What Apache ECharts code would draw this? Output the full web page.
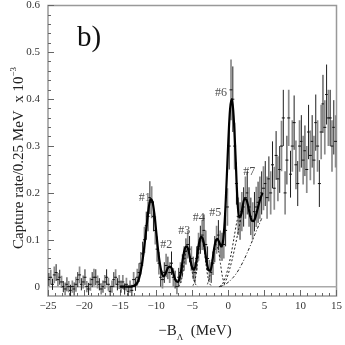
<!DOCTYPE html>
<html>
<head>
<meta charset="utf-8">
<script src="https://cdn.jsdelivr.net/npm/echarts@6/dist/echarts.min.js"></script>
<style>
  html, body { margin: 0; padding: 0; background: #fff; }
  #chart { width: 345px; height: 345px; }
</style>
</head>
<body>
<div id="chart"></div>
<script>
// histogram: 0.25 MeV bins starting at -25 MeV
const BIN_START = -25;
const BIN_W = 0.25;

// capture rate per bin (x 10^-3), 4 bins per MeV, one line per MeV
const rate = [
  0.015, 0.02, 0.005, 0.025,    // -25
  0.03, 0.015, 0.02, 0.01,      // -24
  0.0, -0.005, 0.005, 0.0,      // -23
  -0.008, 0.0, -0.005, 0.005,   // -22
  0.015, 0.025, 0.005, 0.01,    // -21
  0.02, 0.0, -0.005, 0.005,     // -20
  0.015, 0.02, 0.02, 0.01,      // -19
  0.005, -0.005, 0.0, 0.01,     // -18
  0.02, 0.005, -0.01, 0.0,      // -17
  0.015, 0.02, 0.005, 0.01,     // -16
  0.0, 0.01, -0.005, 0.005,     // -15
  -0.01, 0.0, -0.008, 0.015,    // -14
  0.005, 0.02, 0.03, 0.05,      // -13
  0.07, 0.10, 0.13, 0.15,       // -12
  0.19, 0.18, 0.15, 0.12,       // -11
  0.08, 0.05, 0.02, 0.015,      // -10
  0.03, 0.045, 0.04, 0.03,      // -9
  0.05, 0.02, 0.015, 0.0,       // -8
  0.02, 0.03, 0.045, 0.06,      // -7
  0.075, 0.09, 0.08, 0.06,      // -6
  0.04, 0.03, 0.06, 0.085,      // -5
  0.10, 0.11, 0.12, 0.09,       // -4
  0.06, 0.035, 0.03, 0.05,      // -3
  0.08, 0.10, 0.11, 0.09,       // -2
  0.085, 0.09, 0.12, 0.17,      // -1
  0.30, 0.42, 0.40, 0.30,       // 0
  0.22, 0.15, 0.14, 0.16,       // 1
  0.17, 0.19, 0.20, 0.17,       // 2
  0.15, 0.14, 0.16, 0.17,       // 3
  0.18, 0.19, 0.20, 0.21,       // 4
  0.22, 0.19, 0.23, 0.20,       // 5
  0.26, 0.21, 0.28, 0.23,       // 6
  0.25, 0.30, 0.36, 0.20,       // 7
  0.27, 0.36, 0.24, 0.30,       // 8
  0.35, 0.26, 0.22, 0.30,       // 9
  0.31, 0.27, 0.29, 0.25,       // 10
  0.33, 0.28, 0.31, 0.27,       // 11
  0.35, 0.30, 0.22, 0.33,       // 12
  0.39, 0.34, 0.41, 0.36,       // 13
  0.36, 0.30, 0.34, 0.31        // 14
];

// statistical error per bin
const rateErr = [
  0.014, 0.016, 0.012, 0.018,
  0.018, 0.014, 0.016, 0.013,
  0.012, 0.014, 0.015, 0.012,
  0.012, 0.013, 0.014, 0.016,
  0.016, 0.018, 0.013, 0.014,
  0.017, 0.012, 0.013, 0.014,
  0.016, 0.018, 0.017, 0.014,
  0.013, 0.012, 0.013, 0.015,
  0.017, 0.014, 0.012, 0.013,
  0.016, 0.017, 0.013, 0.015,
  0.013, 0.015, 0.012, 0.014,
  0.012, 0.013, 0.012, 0.016,
  0.014, 0.018, 0.02, 0.024,
  0.026, 0.028, 0.03, 0.032,
  0.035, 0.034, 0.032, 0.03,
  0.027, 0.024, 0.02, 0.019,
  0.022, 0.025, 0.024, 0.022,
  0.025, 0.02, 0.019, 0.016,
  0.02, 0.022, 0.024, 0.026,
  0.028, 0.03, 0.028, 0.026,
  0.024, 0.022, 0.026, 0.03,
  0.03, 0.032, 0.034, 0.03,
  0.026, 0.022, 0.022, 0.025,
  0.028, 0.03, 0.032, 0.03,
  0.03, 0.03, 0.034, 0.04,
  0.05, 0.065, 0.07, 0.05,
  0.045, 0.04, 0.04, 0.042,
  0.042, 0.045, 0.046, 0.042,
  0.04, 0.04, 0.042, 0.043,
  0.044, 0.045, 0.046, 0.047,
  0.048, 0.045, 0.048, 0.046,
  0.05, 0.046, 0.052, 0.048,
  0.05, 0.054, 0.06, 0.046,
  0.052, 0.06, 0.05, 0.055,
  0.058, 0.052, 0.048, 0.055,
  0.056, 0.052, 0.054, 0.05,
  0.058, 0.053, 0.056, 0.052,
  0.06, 0.055, 0.05, 0.058,
  0.062, 0.058, 0.064, 0.06,
  0.06, 0.055, 0.058, 0.056
];

// fitted curve, sampled every 0.25 MeV from -15 MeV
const FIT_START = -15;
const fitY = [
  0, 0, 0, 0, 0, 0, 0, 0.001,                          // -15 .. -13.25
  0.002, 0.005, 0.012, 0.025, 0.045, 0.072, 0.105, 0.14, // -13 .. -11.25
  0.172, 0.187, 0.18, 0.155, 0.118, 0.08, 0.05, 0.03,    // -11 .. -9.25
  0.022, 0.026, 0.036, 0.042, 0.042, 0.035, 0.022, 0.012, // -9 .. -7.25
  0.01, 0.018, 0.038, 0.064, 0.082, 0.086, 0.076, 0.056,  // -7 .. -5.25
  0.04, 0.036, 0.048, 0.074, 0.097, 0.106, 0.1, 0.078,    // -5 .. -3.25
  0.052, 0.036, 0.034, 0.05, 0.078, 0.097, 0.102, 0.094,  // -3 .. -1.25
  0.086, 0.095, 0.14, 0.22, 0.31, 0.38, 0.40, 0.36,       // -1 .. 0.75
  0.28, 0.19, 0.148, 0.152, 0.172, 0.187, 0.186, 0.172,   // 1 .. 2.75
  0.153, 0.141, 0.14, 0.148, 0.162, 0.177, 0.19, 0.2      // 3 .. 4.75
];

// single-peak components (dotted)
const peak3X = [-6.9, -6.6, -6.3, -6.0, -5.7, -5.4, -5.1, -4.8, -4.5, -4.2];
const peak3Y = [0, 0.008, 0.03, 0.065, 0.082, 0.07, 0.04, 0.015, 0.004, 0];
const peak4X = [-4.9, -4.6, -4.3, -4.0, -3.7, -3.4, -3.1, -2.8, -2.5, -2.2];
const peak4Y = [0.002, 0.015, 0.045, 0.085, 0.1, 0.085, 0.048, 0.018, 0.004, 0];
const peak5X = [-2.9, -2.6, -2.3, -2.0, -1.7, -1.4, -1.1, -0.8, -0.5];
const peak5Y = [0.005, 0.02, 0.05, 0.08, 0.09, 0.08, 0.05, 0.02, 0.004];

// rising continuum components
const riseAX = [-1.2, -0.8, -0.4, 0, 0.4, 0.8, 1.2, 1.4];
const riseAY = [0, 0.006, 0.02, 0.042, 0.07, 0.105, 0.14, 0.15];
const riseBX = [-1.0, -0.6, -0.2, 0.2, 0.6, 1.0, 1.4, 1.8, 2.0];
const riseBY = [0, 0.005, 0.018, 0.038, 0.062, 0.09, 0.12, 0.15, 0.165];
const riseCX = [-1.3, -0.8, -0.3, 0.2, 0.7, 1.2, 1.7, 2.2, 2.7, 3.2, 3.7, 4.2, 4.7];
const riseCY = [0, 0.002, 0.006, 0.012, 0.02, 0.03, 0.043, 0.058, 0.075, 0.093, 0.112, 0.13, 0.148];

// peak labels
const peakNames = ['#1', '#2', '#3', '#4', '#5', '#6', '#7'];
const peakLabelX = [-11.6, -8.6, -6.1, -4.1, -1.8, -1.0, 2.9];
const peakLabelY = [0.19, 0.09, 0.12, 0.147, 0.157, 0.414, 0.246];

const yMajor = [0, 0.1, 0.2, 0.3, 0.4, 0.5, 0.6];
const yMinor = [0.02, 0.04, 0.06, 0.08, 0.12, 0.14, 0.16, 0.18, 0.22, 0.24, 0.26, 0.28,
  0.32, 0.34, 0.36, 0.38, 0.42, 0.44, 0.46, 0.48, 0.52, 0.54, 0.56, 0.58];

const SERIF = 'Liberation Serif, DejaVu Serif, serif';

const histData = rate.map((v, i) => [BIN_START + (i + 0.5) * BIN_W, v, rateErr[i]]);
const fitData = fitY.map((v, i) => [FIT_START + i * BIN_W, v]);
const zip = (xs, ys) => xs.map((x, i) => [x, ys[i]]);

function compLine(xs, ys, dash) {
  return {
    type: 'line',
    data: zip(xs, ys),
    symbol: 'none',
    smooth: 0.3,
    lineStyle: { color: '#222', width: 1, type: dash },
    silent: true,
    z: 3
  };
}

const chart = echarts.init(document.getElementById('chart'));

chart.setOption({
  animation: false,
  backgroundColor: '#fff',
  grid: {
    left: 48, right: 7, top: 5, bottom: 49,
    show: true,
    borderColor: '#999',
    borderWidth: 1.5
  },
  xAxis: {
    type: 'value',
    min: -25,
    max: 15,
    interval: 5,
    axisLine: { show: false, onZero: false },
    axisTick: { inside: true, length: 6, lineStyle: { color: '#666' } },
    minorTick: { show: true, splitNumber: 5, length: 3, lineStyle: { color: '#666' } },
    splitLine: { show: false },
    axisLabel: {
      color: '#333',
      fontFamily: SERIF,
      fontSize: 11,
      margin: 5,
      formatter: v => String(v).replace('-', '\u2212')
    }
  },
  yAxis: [
    {
      type: 'value',
      min: -0.02,
      max: 0.6,
      axisLine: { show: false, onZero: false },
      axisTick: { inside: true, length: 6, customValues: yMajor, lineStyle: { color: '#666' } },
      splitLine: { show: false },
      axisLabel: {
        customValues: yMajor,
        color: '#333',
        fontFamily: SERIF,
        fontSize: 11,
        margin: 8,
        formatter: v => (Math.abs(v) < 1e-9 ? '0' : v.toFixed(1))
      }
    },
    {
      type: 'value',
      position: 'left',
      min: -0.02,
      max: 0.6,
      axisLine: { show: false, onZero: false },
      axisTick: { inside: true, length: 3, customValues: yMinor, lineStyle: { color: '#666' } },
      splitLine: { show: false },
      axisLabel: { show: false }
    }
  ],
  graphic: [
    {
      type: 'text',
      left: 77,
      top: 24,
      style: { text: 'b)', font: '29px ' + SERIF, fill: '#111' }
    },
    {
      type: 'text',
      x: 18,
      y: 158,
      rotation: Math.PI / 2,
      style: {
        text: '{a|Capture rate/0.25 MeV  x 10}{s|\u22123}',
        align: 'center',
        verticalAlign: 'middle',
        rich: {
          a: { fontFamily: SERIF, fontSize: 15, fill: '#222', verticalAlign: 'bottom', lineHeight: 18 },
          s: { fontFamily: SERIF, fontSize: 9, fill: '#222', verticalAlign: 'top', lineHeight: 18 }
        }
      }
    },
    {
      type: 'text',
      x: 195,
      y: 333,
      style: {
        text: '{a|\u2212B}{s|\u039B}{a|  (MeV)}',
        align: 'center',
        verticalAlign: 'middle',
        rich: {
          a: { fontFamily: SERIF, fontSize: 15, fill: '#222', verticalAlign: 'top', lineHeight: 18 },
          s: { fontFamily: SERIF, fontSize: 9, fill: '#222', verticalAlign: 'bottom', lineHeight: 18 }
        }
      }
    }
  ],
  series: [
    {
      type: 'line',
      data: [[-25, 0], [15, 0]],
      symbol: 'none',
      lineStyle: { color: '#aaa', width: 1.5 },
      silent: true,
      z: 1
    },
    {
      type: 'custom',
      data: histData,
      clip: true,
      z: 2,
      renderItem: (params, api) => {
        const x = api.value(0), y = api.value(1), e = api.value(2);
        const top = api.coord([x, y + e]);
        const bot = api.coord([x, y - e]);
        const mid = api.coord([x, y]);
        const gray = params.dataIndex % 2 === 1;
        return {
          type: 'group',
          children: [
            {
              type: 'line',
              shape: { x1: top[0], y1: top[1], x2: bot[0], y2: bot[1] },
              style: { stroke: gray ? '#8a8a8a' : '#1e1e1e', lineWidth: gray ? 1.7 : 1 }
            },
            {
              type: 'line',
              shape: { x1: mid[0] - 1.5, y1: mid[1], x2: mid[0] + 1.5, y2: mid[1] },
              style: { stroke: '#111', lineWidth: 1 }
            }
          ]
        };
      }
    },
    compLine(peak3X, peak3Y, [2, 2]),
    compLine(peak4X, peak4Y, [2, 2]),
    compLine(peak5X, peak5Y, [2, 2]),
    compLine(riseAX, riseAY, [2, 2]),
    compLine(riseBX, riseBY, [2, 2]),
    compLine(riseCX, riseCY, [3, 2, 1, 2]),
    {
      type: 'line',
      data: fitData,
      symbol: 'none',
      smooth: 0.3,
      lineStyle: { color: '#000', width: 2.2 },
      silent: true,
      z: 4
    },
    {
      type: 'scatter',
      data: peakNames.map((n, i) => ({ name: n, value: [peakLabelX[i], peakLabelY[i]] })),
      symbolSize: 0,
      silent: true,
      z: 5,
      label: {
        show: true,
        position: 'inside',
        formatter: p => p.name,
        fontFamily: SERIF,
        fontSize: 12,
        color: '#222'
      }
    }
  ]
});
</script>
</body>
</html>
